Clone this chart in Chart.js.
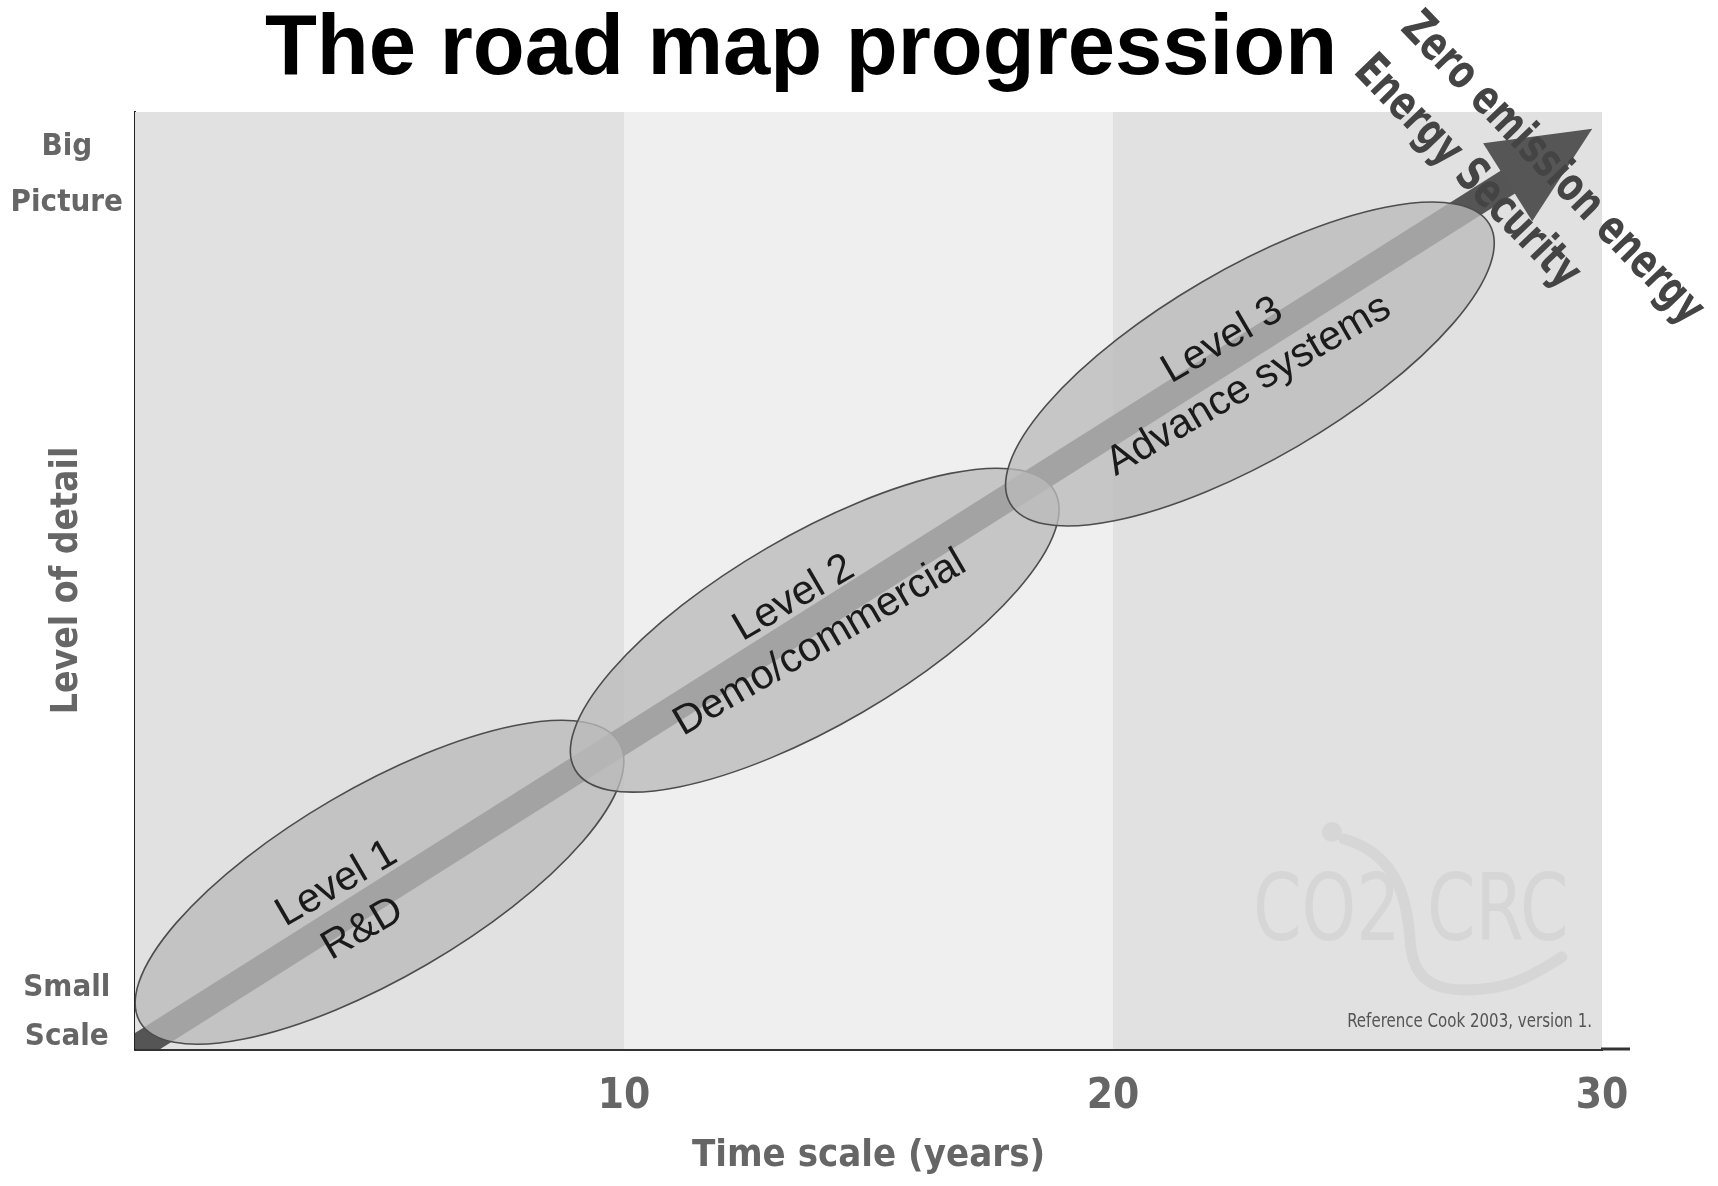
<!DOCTYPE html>
<html lang="en">
<head>
<meta charset="UTF-8" />
<title>The road map progression</title>
<script src="https://cdn.jsdelivr.net/npm/chart.js"></script>
<style>
  html, body { margin: 0; padding: 0; background: #fff; }
  #wrap { width: 1718px; height: 1186px; }
</style>
</head>
<body>
<div id="wrap"><canvas id="roadmap"></canvas></div>
<script>
// shaded periods behind the plot (years)
const periodStart = [0, 10, 20];
const periodEnd = [10, 20, 30];

// axis ticks
const xTicks = [10, 20, 30];
const yTickValues = [3.9, 93.3];
const yTickLabels = [['Small', 'Scale'], ['Big', 'Picture']];

// the three levels, each an ellipse from (startYear, startDetail) to (endYear, endDetail)
const levelNames = ['Level 1', 'Level 2', 'Level 3'];
const levelStages = ['R&D', 'Demo/commercial', 'Advance systems'];
const levelStartYear = [0.1, 9.0, 17.9];
const levelEndYear = [9.9, 18.8, 27.7];
const levelStartDetail = [2.9, 29.8, 58.2];
const levelEndDetail = [32.7, 59.6, 88.0];

// progression arrow (year, detail) and where it leads
const arrowFrom = [0, 0];
const arrowTo = [29.8, 98.2];
const goals = ['Zero emission energy', 'Energy Security'];

const CONDENSED = "'Liberation Sans Narrow', 'DejaVu Sans Condensed', sans-serif";
const ARIAL = "'Liberation Sans', Arial, sans-serif";
const AXIS_GREY = '#666';
const bandColors = ['#e1e1e1', '#efefef', '#e1e1e1'];
// small hand nudges for the ellipse captions: [along axis, across axis] in px
const captionNudge = [[-38, 6], [-2, -12], [-12, -8]];

// draws text squeezed horizontally, like the condensed face of the original
function squeezed(ctx, text, x, y, rot, squeeze) {
  ctx.save();
  ctx.translate(x, y);
  ctx.rotate(rot);
  ctx.scale(squeeze, 1);
  ctx.fillText(text, 0, 0);
  ctx.restore();
}

const roadmapPlugin = {
  id: 'roadmap',
  afterDatasetsDraw(chart) {
    const {ctx, chartArea: area, scales: {x, y}} = chart;
    ctx.save();
    ctx.beginPath();
    ctx.rect(area.left, area.top, area.right - area.left, area.bottom - area.top);
    ctx.clip();

    // watermark
    ctx.fillStyle = '#d6d6d6';
    ctx.font = '92px ' + CONDENSED;
    ctx.textBaseline = 'alphabetic';
    ctx.textAlign = 'left';
    squeezed(ctx, 'CO2', area.right - 349, area.bottom - 109, 0, 0.84);
    squeezed(ctx, 'CRC', area.right - 175, area.bottom - 109, 0, 0.84);
    ctx.beginPath();
    ctx.arc(area.right - 270, area.bottom - 217, 10, 0, Math.PI * 2);
    ctx.fill();
    ctx.strokeStyle = '#d6d6d6';
    ctx.lineWidth = 11;
    ctx.lineCap = 'round';
    ctx.beginPath();
    ctx.moveTo(area.right - 258, area.bottom - 210);
    ctx.bezierCurveTo(area.right - 205, area.bottom - 195, area.right - 195, area.bottom - 150, area.right - 192, area.bottom - 110);
    ctx.bezierCurveTo(area.right - 190, area.bottom - 70, area.right - 170, area.bottom - 55, area.right - 120, area.bottom - 60);
    ctx.bezierCurveTo(area.right - 85, area.bottom - 62, area.right - 60, area.bottom - 80, area.right - 40, area.bottom - 92);
    ctx.stroke();

    ctx.fillStyle = '#555';
    ctx.font = '19px ' + CONDENSED;
    ctx.textAlign = 'right';
    squeezed(ctx, 'Reference Cook 2003, version 1.', area.right - 10, area.bottom - 22, 0, 0.88);

    // arrow
    const sx = x.getPixelForValue(arrowFrom[0]), sy = y.getPixelForValue(arrowFrom[1]);
    const tx = x.getPixelForValue(arrowTo[0]), ty = y.getPixelForValue(arrowTo[1]);
    const ang = Math.atan2(ty - sy, tx - sx);
    const cos = Math.cos(ang), sin = Math.sin(ang);
    const headLen = 100, headHalf = 46;
    const bx = tx - headLen * cos, by = ty - headLen * sin;
    ctx.strokeStyle = '#555';
    ctx.lineWidth = 27;
    ctx.lineCap = 'butt';
    ctx.beginPath();
    ctx.moveTo(sx, sy);
    ctx.lineTo(bx + 2 * cos, by + 2 * sin);
    ctx.stroke();
    ctx.fillStyle = '#565656';
    ctx.beginPath();
    ctx.moveTo(tx, ty);
    ctx.lineTo(bx - sin * headHalf, by + cos * headHalf);
    ctx.lineTo(bx + sin * headHalf, by - cos * headHalf);
    ctx.closePath();
    ctx.fill();

    // level ellipses
    levelNames.forEach((name, i) => {
      const x1 = x.getPixelForValue(levelStartYear[i]), y1 = y.getPixelForValue(levelStartDetail[i]);
      const x2 = x.getPixelForValue(levelEndYear[i]), y2 = y.getPixelForValue(levelEndDetail[i]);
      const cx = (x1 + x2) / 2, cy = (y1 + y2) / 2;
      const a = Math.hypot(x2 - x1, y2 - y1) / 2;
      const rot = Math.atan2(y2 - y1, x2 - x1);
      ctx.beginPath();
      ctx.ellipse(cx, cy, a, 95, rot, 0, Math.PI * 2);
      ctx.fillStyle = 'rgba(186,186,186,0.78)';
      ctx.fill();
      ctx.strokeStyle = '#4d4d4d';
      ctx.lineWidth = 1.6;
      ctx.stroke();

      const [along, across] = captionNudge[i];
      const lx = cx + along * Math.cos(rot) - across * Math.sin(rot);
      const ly = cy + along * Math.sin(rot) + across * Math.cos(rot);
      ctx.save();
      ctx.translate(lx, ly);
      ctx.rotate(rot);
      ctx.fillStyle = '#1a1a1a';
      ctx.font = '41px ' + ARIAL;
      ctx.textAlign = 'center';
      ctx.textBaseline = 'middle';
      ctx.fillText(name, 0, -26);
      ctx.fillText(levelStages[i], 0, 26);
      ctx.restore();
    });
    ctx.restore();
  },
  afterDraw(chart) {
    const {ctx, chartArea: area, scales: {x, y}} = chart;
    ctx.save();
    // x axis line runs a little past the last year
    ctx.strokeStyle = '#333';
    ctx.lineWidth = 3;
    ctx.beginPath();
    ctx.moveTo(area.right - 1, area.bottom);
    ctx.lineTo(area.right + 28, area.bottom);
    ctx.stroke();

    // goals beside the arrow head
    const tx = x.getPixelForValue(arrowTo[0]), ty = y.getPixelForValue(arrowTo[1]);
    const rot = 46 * Math.PI / 180;
    ctx.fillStyle = '#444';
    ctx.font = 'bold 47px ' + CONDENSED;
    ctx.textAlign = 'left';
    ctx.textBaseline = 'middle';
    const starts = [[-184, -108], [-231, -65]];
    goals.forEach((g, i) => squeezed(ctx, g, tx + starts[i][0], ty + starts[i][1], rot, 0.8));
    ctx.restore();
  }
};

new Chart(document.getElementById('roadmap'), {
  type: 'line',
  data: {
    datasets: periodStart.map((s, i) => ({
      data: [{x: s, y: 100}, {x: periodEnd[i], y: 100}],
      fill: 'origin',
      backgroundColor: bandColors[i],
      borderWidth: 0,
      pointRadius: 0
    }))
  },
  options: {
    responsive: true,
    maintainAspectRatio: false,
    animation: false,
    events: [],
    layout: { padding: { top: 0, left: 0, bottom: 0, right: 116 } },
    plugins: {
      legend: { display: false },
      tooltip: { enabled: false },
      title: {
        display: true,
        text: 'The road map progression',
        color: '#000',
        font: { family: ARIAL, size: 85, weight: 'bold', lineHeight: 1 },
        padding: { top: 8, bottom: 19 }
      }
    },
    scales: {
      x: {
        type: 'linear',
        min: 0,
        max: 30,
        z: 1,
        grid: { display: false, drawTicks: false },
        border: { display: true, color: '#333', width: 3 },
        afterBuildTicks: (scale) => { scale.ticks = xTicks.map(v => ({ value: v })); },
        afterFit: (scale) => { scale.height = 137; },
        ticks: {
          autoSkip: false,
          maxRotation: 0,
          padding: 27,
          color: AXIS_GREY,
          font: { family: CONDENSED, size: 42, weight: 'bold', lineHeight: 1 }
        },
        title: {
          display: true,
          text: 'Time scale (years)',
          color: AXIS_GREY,
          font: { family: CONDENSED, size: 38, weight: 'bold', lineHeight: 1 },
          padding: { top: 0, bottom: 11 }
        }
      },
      y: {
        type: 'linear',
        min: 0,
        max: 100,
        z: 1,
        grid: { display: false, drawTicks: false },
        border: { display: true, color: '#222', width: 2 },
        afterBuildTicks: (scale) => { scale.ticks = yTickValues.map(v => ({ value: v })); },
        afterFit: (scale) => { scale.width = 135; },
        ticks: {
          autoSkip: false,
          padding: 12,
          crossAlign: 'center',
          color: AXIS_GREY,
          font: (c) => ({ family: CONDENSED, size: 31, weight: 'bold', lineHeight: c.index === 1 ? 1.8 : 1.6 }),
          callback: (value, index) => yTickLabels[index]
        },
        title: {
          display: true,
          text: 'Level of detail',
          color: AXIS_GREY,
          font: { family: CONDENSED, size: 37, weight: 'bold', lineHeight: 1 },
          padding: { top: 49, bottom: 0 }
        }
      }
    }
  },
  plugins: [roadmapPlugin]
});
</script>
</body>
</html>
